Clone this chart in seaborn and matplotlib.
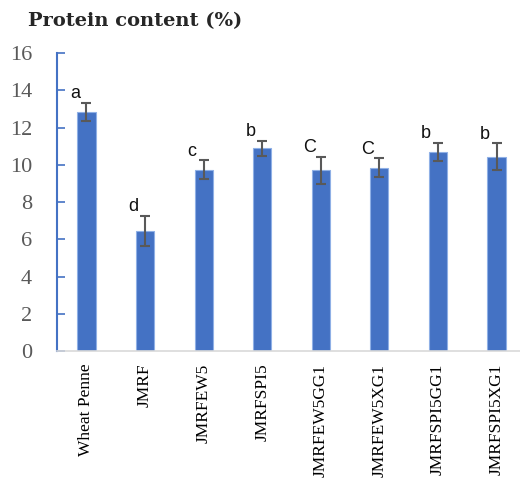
import matplotlib
matplotlib.use("Agg")
import matplotlib.pyplot as plt
from matplotlib.font_manager import FontProperties
import seaborn as sns
import pandas as pd

# Protein content of penne samples (mean, standard deviation, significance group)
samples = ["Wheat Penne", "JMRF", "JMRFEW5", "JMRFSPI5",
           "JMRFEW5GG1", "JMRFEW5XG1", "JMRFSPI5GG1", "JMRFSPI5XG1"]
protein_mean = [12.85, 6.45, 9.75, 10.9, 9.7, 9.85, 10.7, 10.45]
protein_sd = [0.5, 0.8, 0.5, 0.4, 0.72, 0.5, 0.5, 0.7]
groups = ["a", "d", "c", "b", "C", "C", "b", "b"]
y_ticks = [0, 2, 4, 6, 8, 10, 12, 14, 16]

df = pd.DataFrame({"sample": samples, "protein": protein_mean})

sns.set_style("white")
plt.rcParams["font.family"] = ["serif"]
plt.rcParams["font.serif"] = ["Liberation Serif", "DejaVu Serif"]

times_y = FontProperties(family="Liberation Serif", size=16)
times_x = FontProperties(family="Liberation Serif", size=12.5)
sans_lbl = FontProperties(family="Liberation Sans", size=13)
title_fp = FontProperties(family="DejaVu Serif", weight="bold", size=14)

fig = plt.figure(figsize=(5.2, 4.79), dpi=100)
ax = fig.add_axes([0.11, 0.267, 0.89, 0.622])

sns.barplot(data=df, x="sample", y="protein", color="#4472C4",
            width=0.31, saturation=1, edgecolor="#8FB0E6", linewidth=0.8, ax=ax)

xs = [p.get_x() + p.get_width() / 2 for p in ax.patches]
ax.errorbar(xs, protein_mean, yerr=protein_sd, fmt="none", ecolor="#595959",
            elinewidth=1.5, capsize=3.6, capthick=1.5, zorder=3)

for x, m, s, g in zip(xs, protein_mean, protein_sd, groups):
    ax.text(x - 0.2, m + s + 0.25, g, ha="center", va="baseline",
            fontproperties=sans_lbl, color="#111111")

ax.set_xlim(-0.5, 7.4)
ax.set_ylim(0, 16)
ax.set_yticks(y_ticks)
ax.set_yticklabels([str(t) for t in y_ticks], color="#595959")
for lbl in ax.get_yticklabels():
    lbl.set_fontproperties(times_y)
ax.set_xticks(range(len(samples)))
ax.set_xticklabels(samples, rotation=90, color="#000000")
for lbl in ax.get_xticklabels():
    lbl.set_fontproperties(times_x)
ax.set_xlabel("")
ax.set_ylabel("")

ax.tick_params(axis="y", left=True, direction="in", length=6, width=1.2,
               color="#4472C4", pad=18)
ax.tick_params(axis="x", bottom=False, length=0, pad=9)
for side in ["top", "right"]:
    ax.spines[side].set_visible(False)
ax.spines["left"].set_color("#4472C4")
ax.spines["left"].set_linewidth(1.5)
ax.spines["bottom"].set_color("#D9D9D9")
ax.spines["bottom"].set_linewidth(1.2)

fig.text(0.054, 0.955, "Protein content (%)", fontproperties=title_fp,
         ha="left", va="center")

fig.savefig("out.png", dpi=100)
